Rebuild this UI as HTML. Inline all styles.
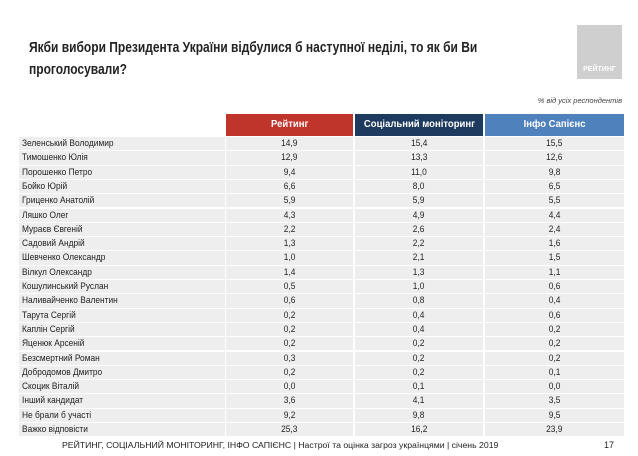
<!DOCTYPE html>
<html><head><meta charset="utf-8"><style>
body{margin:0;width:638px;height:456px;background:#fff;font-family:"Liberation Sans","Noto Sans CJK SC",sans-serif;position:relative;overflow:hidden}
.slide{position:absolute;left:0;top:0;width:638px;height:456px;background:#fff}
.sx{display:inline-block;white-space:nowrap}
#title{position:absolute;left:29px;top:37px;font-size:15px;font-weight:bold;color:#222;line-height:22px}
#title .sx{transform:scaleX(0.8);transform-origin:left}
#logo{position:absolute;left:577px;top:25px;width:45px;height:54px;background:#cfcfcf;color:#fff;font-size:7px;font-weight:bold;text-align:center;line-height:10px;box-sizing:border-box;padding-top:40px}
#note{position:absolute;right:16px;top:96px;font-size:7.5px;font-style:italic;color:#444}
.cell{position:absolute;font-size:9.5px;color:#222;line-height:13.3px;height:13.3px;white-space:nowrap;overflow:hidden}
.cell .sx{transform:scaleX(0.88)}
.hdr{position:absolute;top:114px;height:22px;line-height:22px;color:#fff;font-size:10px;font-weight:bold;text-align:center}
.hdr .sx{transform:scaleX(0.95)}
#footer{position:absolute;left:62px;top:440px;font-size:8.7px;color:#222;white-space:nowrap}
#page{position:absolute;left:604px;top:440px;font-size:9px;color:#222}
</style></head><body>
<div class="slide">
<div id="title"><span class="sx">Якби вибори Президента України відбулися б наступної неділі, то як би Ви</span><br><span class="sx">проголосували?</span></div>
<div id="logo">РЕЙТИНГ</div>
<div id="note">% від усіх респондентів</div>
<div class="hdr" style="left:226px;width:127px;background:#c0352b"><span class="sx">Рейтинг</span></div>
<div class="hdr" style="left:355px;width:128px;background:#1f3a5f"><span class="sx">Соціальний моніторинг</span></div>
<div class="hdr" style="left:485px;width:139px;background:#4f81bd"><span class="sx">Інфо Сапієнс</span></div>
<div id="rows"></div>
<div id="footer">РЕЙТИНГ, СОЦІАЛЬНИЙ МОНІТОРИНГ, ІНФО САПІЄНС | Настрої та оцінка загроз українцями | січень 2019</div>
<div id="page">17</div>
</div>
<script>
const categories=["Зеленський Володимир","Тимошенко Юлія","Порошенко Петро","Бойко Юрій","Гриценко Анатолій","Ляшко Олег","Мураєв Євгеній","Садовий Андрій","Шевченко Олександр","Вілкул Олександр","Кошулинський Руслан","Наливайченко Валентин","Тарута Сергій","Каплін Сергій","Яценюк Арсеній","Безсмертний Роман","Добродомов Дмитро","Скоцик Віталій","Інший кандидат","Не брали б участі","Важко відповісти"];
const reiting=["14,9","12,9","9,4","6,6","5,9","4,3","2,2","1,3","1,0","1,4","0,5","0,6","0,2","0,2","0,2","0,3","0,2","0,0","3,6","9,2","25,3"];
const social=["15,4","13,3","11,0","8,0","5,9","4,9","2,6","2,2","2,1","1,3","1,0","0,8","0,4","0,4","0,2","0,2","0,2","0,1","4,1","9,8","16,2"];
const sapiens=["15,5","12,6","9,8","6,5","5,5","4,4","2,4","1,6","1,5","1,1","0,6","0,4","0,6","0,2","0,2","0,2","0,1","0,0","3,5","9,5","23,9"];
const rows=document.getElementById('rows');
const cols=[[19,206,'left',null],[226,127,'center',reiting],[355,128,'center',social],[485,139,'center',sapiens]];
categories.forEach((c,i)=>{
  const y=137+i*14.3;
  cols.forEach((col,j)=>{
    const d=document.createElement('div');
    d.className='cell';
    d.style.left=col[0]+'px';d.style.width=col[1]+'px';d.style.top=y+'px';
    d.style.textAlign=col[2];
    d.style.background='#eeeeee';
    if(j==0)d.style.paddingLeft='3px',d.style.width=(col[1]-3)+'px';
    const s=document.createElement('span');
    s.className='sx';
    s.style.transformOrigin=j==0?'left':'center';
    s.textContent=j==0?c:col[3][i];
    d.appendChild(s);
    
    
    rows.appendChild(d);
  });
});
</script>
</body></html>
